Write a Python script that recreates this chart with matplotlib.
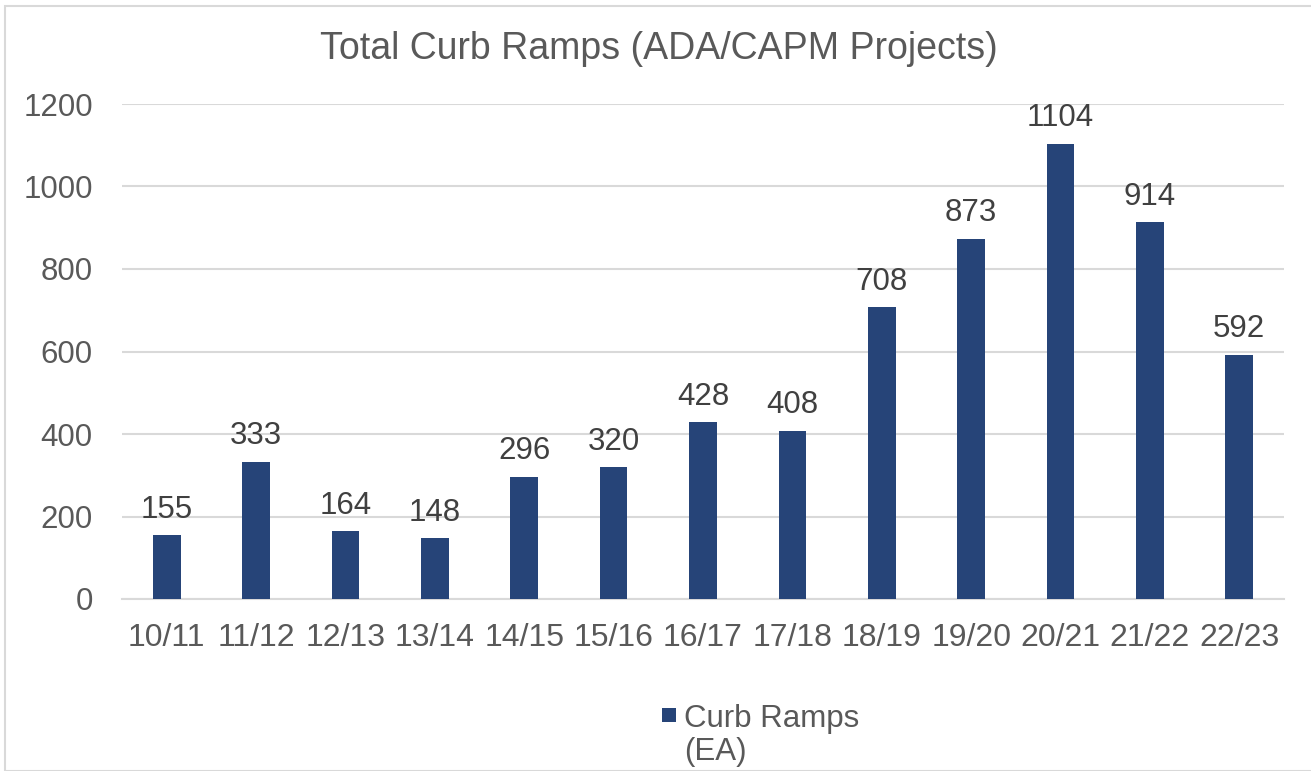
import matplotlib
matplotlib.use("Agg")
import matplotlib.pyplot as plt
from matplotlib.patches import Rectangle

categories = ["10/11", "11/12", "12/13", "13/14", "14/15", "15/16", "16/17",
              "17/18", "18/19", "19/20", "20/21", "21/22", "22/23"]
curb_ramps = [155, 333, 164, 148, 296, 320, 428, 408, 708, 873, 1104, 914, 592]
yticks = [0, 200, 400, 600, 800, 1000, 1200]
series_label = "Curb Ramps\n(EA)"

plt.rcParams['font.family'] = ['Liberation Sans', 'DejaVu Sans']
W, H = 1311, 771
fig = plt.figure(figsize=(W / 100, H / 100), dpi=100)
fig.patch.set_facecolor("white")

# outer border
fig.add_artist(Rectangle((5 / W, 0), 1.2, 1 - 6 / H, transform=fig.transFigure,
                         fill=False, edgecolor="#d9d9d9", linewidth=1.5))

ax = fig.add_axes([122 / W, (H - 599) / H, (1284 - 122) / W, (599 - 104) / H])
x = range(len(categories))
bar_color = "#264478"
bars = ax.bar(x, curb_ramps, width=0.31, color=bar_color, zorder=3)
ax.set_xlim(-0.5, len(categories) - 0.5)
ax.set_ylim(0, 1200)
ax.set_yticks(yticks)
ax.set_xticks(list(x))
ax.set_xticklabels(categories)
ax.tick_params(axis="y", length=0, labelsize=22.5, colors="#595959", pad=21)
ax.tick_params(axis="x", length=0, labelsize=23, colors="#595959", pad=17)
for s in ["top", "right", "left"]:
    ax.spines[s].set_visible(False)
ax.spines["bottom"].set_color("#d9d9d9")
ax.spines["bottom"].set_linewidth(1.5)
ax.yaxis.grid(True, color="#d9d9d9", linewidth=1.5, zorder=0)
ax.set_axisbelow(True)

for i, v in enumerate(curb_ramps):
    ax.annotate(str(v), (i, v), xytext=(0, 7.5), textcoords="offset points",
                ha="center", va="bottom", fontsize=22.5, color="#404040")

fig.text(0.5 * (320 + 997) / W, 1 - 49 / H, "Total Curb Ramps (ADA/CAPM Projects)",
         ha="center", va="center", fontsize=27, color="#595959")

# legend (manual, handle aligned with first line)
fig.add_artist(Rectangle((662 / W, 1 - 722 / H), 14 / W, 14 / H,
                         transform=fig.transFigure, facecolor=bar_color, edgecolor="none"))
fig.text(684 / W, 1 - 704 / H, series_label, ha="left", va="top",
         fontsize=22.5, color="#595959", linespacing=1.15)

fig.savefig("out.png", dpi=100)
